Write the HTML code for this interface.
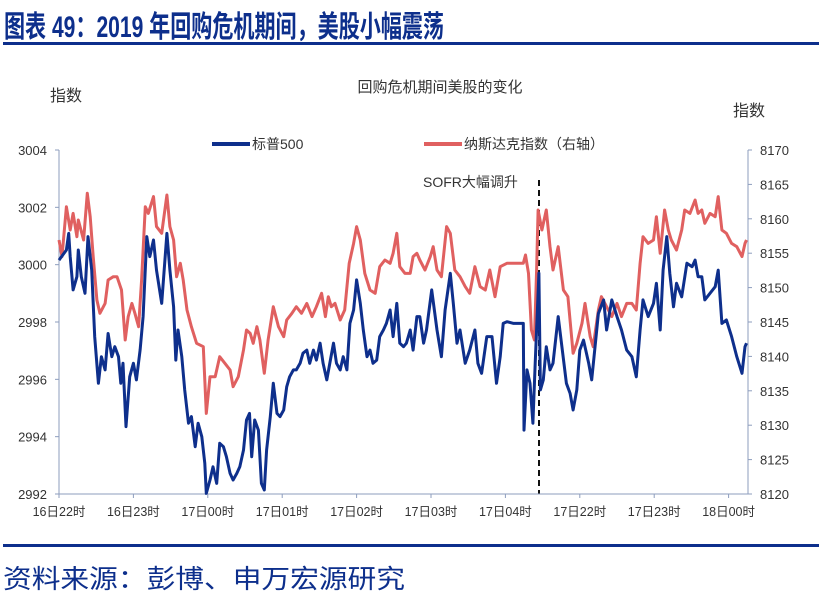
<!DOCTYPE html>
<html><head><meta charset="utf-8"><style>
html,body{margin:0;padding:0;background:#fff;}
svg{display:block;font-family:"Liberation Sans","Noto Sans CJK SC",sans-serif;}
</style></head><body>
<svg id="chart" width="825" height="597" viewBox="0 0 825 597">
<text x="4" y="37" font-size="30" font-weight="bold" fill="#0d2f8c" textLength="440" lengthAdjust="spacingAndGlyphs">图表 49：2019 年回购危机期间，美股小幅震荡</text>
<rect x="3" y="42" width="816" height="3" fill="#0d2f8c"/>
<text x="440" y="92" font-size="15" fill="#333" text-anchor="middle">回购危机期间美股的变化</text>
<text x="50" y="101" font-size="16" fill="#333">指数</text>
<text x="733" y="116" font-size="16" fill="#333">指数</text>
<g>
<line x1="212" y1="144" x2="250" y2="144" stroke="#0e2f8c" stroke-width="4"/>
<text x="252" y="149" font-size="14" fill="#333">标普500</text>
<line x1="424" y1="144" x2="462" y2="144" stroke="#e06060" stroke-width="4"/>
<text x="464" y="149" font-size="14" fill="#333">纳斯达克指数（右轴）</text>
</g>
<text x="423" y="187" font-size="14" fill="#333">SOFR大幅调升</text>
<line x1="539" y1="180" x2="539" y2="494" stroke="#111" stroke-width="2" stroke-dasharray="6,4"/>
<g id="axes"></g>
<g id="series"></g>
<rect x="3" y="544" width="816" height="3" fill="#0d2f8c"/>
<text x="3" y="588" font-size="26" fill="#0d2f8c" textLength="402" lengthAdjust="spacingAndGlyphs">资料来源：彭博、申万宏源研究</text>
</svg>
<script>
const xTickLabels=["16日22时","16日23时","17日00时","17日01时","17日02时","17日03时","17日04时","17日22时","17日23时","18日00时"];
const leftTicks=[2992,2994,2996,2998,3000,3002,3004];
const rightTicks=[8120,8125,8130,8135,8140,8145,8150,8155,8160,8165,8170];
const spTimes=[0.00,0.10,0.13,0.15,0.19,0.24,0.26,0.30,0.35,0.39,0.44,0.48,0.53,0.57,0.62,0.66,0.71,0.75,0.80,0.83,0.86,0.90,0.95,1.00,1.04,1.09,1.13,1.18,1.22,1.27,1.31,1.38,1.45,1.49,1.54,1.57,1.60,1.65,1.69,1.74,1.78,1.83,1.87,1.92,1.96,1.98,2.03,2.07,2.12,2.16,2.21,2.25,2.30,2.34,2.39,2.43,2.48,2.52,2.56,2.59,2.63,2.68,2.72,2.76,2.79,2.84,2.88,2.93,2.97,3.02,3.06,3.10,3.15,3.19,3.24,3.28,3.33,3.37,3.42,3.46,3.51,3.55,3.60,3.64,3.69,3.73,3.78,3.82,3.87,3.91,3.96,4.00,4.05,4.09,4.14,4.18,4.22,4.27,4.31,4.36,4.40,4.45,4.49,4.54,4.58,4.63,4.67,4.72,4.76,4.81,4.85,4.90,4.94,5.01,5.08,5.14,5.19,5.26,5.30,5.35,5.39,5.46,5.52,5.59,5.63,5.68,5.75,5.82,5.88,5.93,5.97,6.02,6.11,6.24,6.25,6.29,6.33,6.37,6.40,6.43,6.45,6.47,6.51,6.55,6.60,6.64,6.71,6.76,6.82,6.87,6.91,6.96,7.00,7.05,7.12,7.16,7.21,7.25,7.32,7.36,7.43,7.50,7.56,7.63,7.70,7.76,7.81,7.85,7.92,7.99,8.03,8.08,8.12,8.17,8.21,8.26,8.30,8.37,8.44,8.51,8.55,8.59,8.64,8.68,8.75,8.82,8.86,8.91,8.97,9.04,9.11,9.18,9.22,9.24];
const spValues=[3000.16,3000.51,3001.09,3000.28,2999.12,2999.58,3000.51,2999.58,2999.00,3000.98,2999.81,2997.49,2995.86,2996.79,2996.33,2997.60,2996.79,2997.14,2996.79,2995.86,2996.56,2994.35,2996.09,2996.56,2995.98,2997.02,2998.19,3000.98,3000.28,3000.86,2999.81,2998.65,3001.09,2999.81,2998.53,2996.67,2997.72,2996.79,2995.63,2994.47,2994.70,2993.65,2994.47,2994.00,2993.07,2992.02,2992.49,2992.95,2992.37,2993.77,2993.65,2993.30,2992.72,2992.49,2992.72,2992.95,2993.53,2994.58,2994.81,2993.30,2994.58,2994.23,2992.37,2992.14,2993.53,2994.70,2995.86,2994.81,2994.70,2994.93,2995.74,2996.09,2996.33,2996.33,2996.56,2996.91,2997.02,2996.56,2997.02,2996.67,2997.26,2996.56,2995.98,2996.56,2997.26,2996.56,2996.33,2996.79,2996.33,2997.95,2998.42,2999.47,2998.65,2997.72,2996.79,2997.02,2996.56,2996.67,2997.49,2997.72,2997.95,2998.42,2997.49,2998.65,2997.26,2997.14,2997.26,2997.72,2997.02,2998.19,2998.19,2997.26,2997.72,2999.12,2997.72,2996.79,2998.42,2999.70,2998.65,2997.26,2997.72,2996.56,2997.02,2997.72,2996.56,2996.21,2997.49,2997.49,2995.86,2996.79,2997.95,2998.01,2997.95,2997.95,2994.23,2996.33,2995.86,2994.47,2996.56,2998.42,2999.70,2995.63,2995.98,2997.14,2996.33,2996.56,2998.19,2997.14,2995.86,2995.51,2994.93,2995.63,2997.02,2997.37,2996.56,2995.98,2997.26,2998.30,2998.77,2997.72,2998.77,2998.19,2997.72,2997.02,2996.79,2996.09,2997.72,2998.77,2998.19,2998.65,2999.35,2997.72,2999.81,3000.98,2999.70,2998.53,2999.35,2998.88,3000.05,2999.93,3000.16,2999.58,2999.58,2998.77,2999.00,2999.23,2999.81,2997.95,2998.07,2997.49,2996.79,2996.21,2997.14,2997.26];
const ndTimes=[0.00,0.04,0.10,0.15,0.19,0.24,0.26,0.33,0.38,0.42,0.46,0.51,0.55,0.62,0.66,0.73,0.78,0.84,0.89,0.93,0.98,1.02,1.07,1.11,1.16,1.20,1.27,1.31,1.38,1.45,1.49,1.54,1.58,1.63,1.67,1.72,1.78,1.85,1.94,1.98,2.03,2.10,2.16,2.23,2.30,2.34,2.41,2.48,2.52,2.57,2.61,2.66,2.70,2.76,2.81,2.88,2.95,3.02,3.06,3.13,3.19,3.26,3.33,3.40,3.46,3.53,3.58,3.62,3.66,3.71,3.78,3.84,3.90,3.96,4.00,4.05,4.11,4.18,4.25,4.31,4.38,4.45,4.49,4.54,4.58,4.65,4.72,4.76,4.81,4.85,4.92,4.99,5.03,5.08,5.14,5.21,5.26,5.32,5.39,5.46,5.52,5.59,5.66,5.73,5.79,5.86,5.93,6.02,6.24,6.27,6.31,6.35,6.39,6.42,6.44,6.49,6.55,6.60,6.64,6.71,6.78,6.84,6.91,6.96,7.03,7.07,7.14,7.18,7.25,7.29,7.36,7.43,7.50,7.56,7.63,7.70,7.76,7.81,7.85,7.92,7.99,8.03,8.08,8.14,8.19,8.23,8.30,8.37,8.41,8.48,8.55,8.59,8.64,8.68,8.75,8.82,8.86,8.91,8.97,9.04,9.11,9.18,9.22,9.24];
const ndValues=[8156.92,8154.50,8161.76,8158.37,8160.79,8157.40,8159.83,8156.92,8163.70,8160.31,8154.50,8148.20,8146.27,8147.71,8151.10,8151.59,8151.59,8149.65,8142.38,8145.78,8147.71,8146.27,8144.32,8151.10,8161.76,8160.79,8163.22,8158.86,8157.89,8163.46,8158.86,8156.92,8151.59,8153.53,8151.10,8146.74,8144.32,8141.90,8141.41,8131.72,8137.05,8137.05,8139.96,8138.99,8138.02,8135.60,8137.05,8140.93,8143.84,8143.35,8141.90,8144.32,8142.38,8137.54,8142.38,8147.23,8144.32,8142.87,8145.29,8146.26,8147.23,8146.26,8147.71,8145.78,8147.23,8149.17,8145.78,8148.68,8147.23,8147.71,8145.29,8146.74,8153.53,8156.43,8158.86,8156.92,8152.07,8149.65,8149.17,8153.04,8154.01,8153.53,8154.98,8157.89,8153.04,8152.07,8152.07,8154.50,8154.98,8154.01,8152.56,8154.50,8155.95,8152.56,8151.59,8158.86,8157.89,8152.56,8151.59,8150.14,8149.17,8153.04,8150.14,8149.65,8152.56,8148.68,8153.04,8153.53,8153.53,8154.74,8152.07,8143.84,8142.38,8152.56,8161.28,8158.37,8161.28,8155.95,8152.56,8155.95,8149.65,8148.68,8140.45,8141.90,8144.81,8147.71,8142.87,8141.41,8146.74,8148.68,8147.23,8145.78,8147.71,8145.78,8147.71,8147.71,8146.74,8153.53,8157.40,8156.43,8156.92,8160.31,8154.98,8161.28,8158.37,8156.92,8155.47,8158.37,8161.28,8160.79,8162.73,8160.79,8161.28,8159.34,8160.79,8160.31,8163.22,8158.37,8157.89,8156.43,8155.95,8154.50,8156.43,8156.92];

const NS='http://www.w3.org/2000/svg';
const X0=59,X1=748,Y0=494,Y1=150,HOUR=74.4;
function xs(t){return X0+t*HOUR;}
function yl(v){return Y0-(v-2992)/(3004-2992)*(Y0-Y1);}
function yr(v){return Y0-(v-8120)/(8170-8120)*(Y0-Y1);}
function mk(tag,attrs,parent){const e=document.createElementNS(NS,tag);for(const k in attrs)e.setAttribute(k,attrs[k]);parent.appendChild(e);return e;}
const axes=document.getElementById('axes');
const ser=document.getElementById('series');
const AX='#8d9dbd';
let el=mk('line',{x1:X0,y1:Y1,x2:X0,y2:Y0,stroke:AX,'stroke-width':1},axes);


el=mk('line',{x1:X1,y1:Y1,x2:X1,y2:Y0,stroke:AX,'stroke-width':1},axes);


el=mk('line',{x1:X0,y1:Y0,x2:X1,y2:Y0,stroke:AX,'stroke-width':1},axes);


leftTicks.forEach(v=>{const y=yl(v);
 mk('line',{x1:X0-4,y1:y,x2:X0,y2:y,stroke:AX},axes);
 const t=mk('text',{x:X0-12,y:y+5,'font-size':13,fill:'#333','text-anchor':'end'},axes);t.textContent=v;
 
 });
rightTicks.forEach(v=>{const y=yr(v);
 mk('line',{x1:X1,y1:y,x2:X1+4,y2:y,stroke:AX},axes);
 const t=mk('text',{x:X1+12,y:y+5,'font-size':13,fill:'#333'},axes);t.textContent=v;
 
 });
xTickLabels.forEach((s,i)=>{const x=xs(i);
 mk('line',{x1:x,y1:Y0,x2:x,y2:Y0+4,stroke:AX},axes);
 const t=mk('text',{x:x,y:Y0+22,'font-size':12.5,fill:'#333','text-anchor':'middle'},axes);t.textContent=s;
 
 });
function path(times,vals,yf){return times.map((t,i)=>(i?'L':'M')+xs(t).toFixed(1)+','+yf(vals[i]).toFixed(1)).join('');}
el=mk('path',{d:path(ndTimes,ndValues,yr),fill:'none',stroke:'#e06060','stroke-width':3,'stroke-linejoin':'round'},ser);


el=mk('path',{d:path(spTimes,spValues,yl),fill:'none',stroke:'#0e2f8c','stroke-width':3,'stroke-linejoin':'round'},ser);


</script>
</body></html>
